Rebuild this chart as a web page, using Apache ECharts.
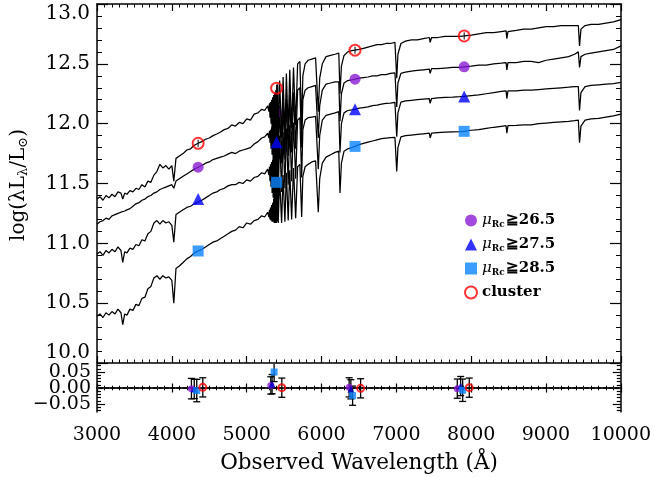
<!DOCTYPE html>
<html>
<head>
<meta charset="utf-8">
<script src="https://cdn.jsdelivr.net/npm/echarts@6/dist/echarts.min.js"></script>
<style>
html,body{margin:0;padding:0;background:#fff}
#chart{width:654px;height:477px}
</style>
</head>
<body>
<div id="chart"></div>
<script>
// Common observed-frame wavelength grid (Angstrom) for the four composite spectra
const wave = [
  3000,3040,3080,3120,3160,3200,3240,3280,3320,3344,3370,3400,3440,3480,3520,3560,3600,3640,3680,3720,
  3760,3800,3840,3880,3920,3960,4000,4026,4055,4100,4150,4200,4250,4300,4351,4400,4450,4500,4550,4600,
  4650,4700,4750,4800,4850,4900,4950,5000,5050,5100,5150,5200,5240,5280,
  5290,5297,5304,5311,5318,5325,5332,5339,5346,5353,5360,5367,5374,5381,5388,5395,5399,5408,
  5414,5421,5440,5466,5486,5510,5530,5554,5575,5600,5625,5654,5680,5710,5734,5750,
  5780,5820,5870,5920,5945,5956,5975,6010,6060,6120,6180,6230,6246,6265,6300,6350,6400,6447,6500,6560,
  6620,6680,6740,6800,6860,6920,6980,6995,7004,7020,7060,7120,7200,7280,7360,7440,7450,7470,7550,7650,
  7750,7850,7905,8000,8100,8200,8300,8400,8465,8475,8490,8600,8700,8800,8900,9000,9100,9200,9300,9380,
  9430,9446,9465,9520,9600,9700,9800,9900,10000
];

// log(lambda L_lambda / L_sun) of each composite
const logL_cluster = [
  11.37,11.39,11.36,11.40,11.38,11.41,11.39,11.43,11.42,11.37,11.42,11.41,11.44,11.43,11.46,11.45,11.49,11.47,11.52,11.51,
  11.57,11.60,11.66,11.63,11.65,11.62,11.65,11.52,11.71,11.73,11.75,11.78,11.79,11.82,11.836,11.85,11.87,11.88,11.90,11.914,
  11.93,11.95,11.96,11.99,11.98,12.01,12.00,12.04,12.03,12.08,12.09,12.12,12.11,12.15,
  12.16,12.10,12.17,12.05,12.18,12.00,12.20,11.95,12.22,11.92,12.24,11.88,12.26,11.85,12.28,11.82,12.297,11.84,
  12.33,11.85,12.36,11.88,12.39,11.90,12.42,11.93,12.45,11.96,12.47,11.99,12.50,12.52,12.00,12.40,
  12.50,12.53,12.54,12.55,12.55,12.10,12.38,12.50,12.56,12.57,12.58,12.59,12.25,12.48,12.57,12.60,12.61,12.614,12.62,12.63,
  12.64,12.65,12.66,12.66,12.67,12.67,12.68,12.67,12.38,12.58,12.67,12.69,12.70,12.70,12.71,12.72,12.68,12.72,12.72,12.73,
  12.73,12.73,12.733,12.74,12.75,12.76,12.76,12.77,12.775,12.71,12.77,12.78,12.79,12.79,12.80,12.81,12.81,12.82,12.82,12.82,
  12.82,12.65,12.79,12.82,12.83,12.83,12.84,12.85,12.87
];
const logL_mu265 = [
  11.16,11.18,11.19,11.21,11.20,11.23,11.24,11.25,11.26,11.26,11.27,11.28,11.29,11.31,11.33,11.34,11.36,11.37,11.39,11.40,
  11.42,11.43,11.45,11.46,11.47,11.48,11.49,11.46,11.52,11.54,11.56,11.58,11.60,11.62,11.636,11.65,11.67,11.68,11.70,11.71,
  11.72,11.73,11.745,11.76,11.75,11.77,11.78,11.79,11.80,11.83,11.85,11.88,11.89,11.92,
  11.93,11.88,11.94,11.84,11.95,11.79,11.97,11.74,11.99,11.70,12.01,11.66,12.03,11.62,12.06,11.60,12.094,11.62,
  12.12,11.65,12.15,11.67,12.18,11.70,12.21,11.73,12.24,11.76,12.26,11.79,12.28,12.30,11.80,12.20,
  12.28,12.30,12.31,12.32,12.32,11.88,12.15,12.28,12.33,12.34,12.35,12.35,12.02,12.25,12.34,12.36,12.365,12.372,12.38,12.385,
  12.39,12.40,12.40,12.41,12.41,12.42,12.425,12.42,12.14,12.34,12.42,12.43,12.44,12.445,12.45,12.455,12.42,12.46,12.46,12.465,
  12.47,12.47,12.475,12.48,12.49,12.49,12.50,12.505,12.51,12.45,12.51,12.51,12.52,12.52,12.51,12.53,12.54,12.55,12.56,12.58,
  12.60,12.47,12.56,12.58,12.59,12.60,12.61,12.62,12.65
];
const logL_mu275 = [
  10.91,10.93,10.90,10.94,10.92,10.95,10.93,10.97,10.94,10.84,10.93,10.92,10.96,10.95,10.99,10.98,11.03,11.02,11.08,11.10,
  11.17,11.19,11.16,11.19,11.17,11.18,11.15,11.01,11.24,11.26,11.28,11.30,11.31,11.33,11.344,11.36,11.38,11.40,11.42,11.43,
  11.45,11.46,11.48,11.49,11.49,11.51,11.50,11.53,11.52,11.55,11.56,11.59,11.58,11.62,
  11.63,11.57,11.64,11.52,11.66,11.47,11.68,11.42,11.70,11.38,11.73,11.34,11.76,11.30,11.80,11.27,11.844,11.30,
  11.87,11.40,11.90,11.43,11.93,11.46,11.96,11.49,11.99,11.52,12.01,11.54,12.03,12.05,11.55,11.95,
  12.03,12.05,12.055,12.06,12.06,11.62,11.90,12.03,12.07,12.08,12.09,12.10,11.76,12.00,12.09,12.11,12.115,12.12,12.13,12.135,
  12.14,12.15,12.155,12.164,12.17,12.172,12.178,12.17,11.89,12.09,12.18,12.19,12.195,12.20,12.205,12.21,12.17,12.21,12.215,12.22,
  12.222,12.225,12.228,12.235,12.24,12.25,12.26,12.27,12.275,12.21,12.275,12.275,12.28,12.28,12.285,12.29,12.295,12.30,12.305,12.31,
  12.31,12.11,12.26,12.31,12.32,12.325,12.33,12.335,12.345
];
const logL_mu285 = [
  10.39,10.41,10.38,10.42,10.40,10.43,10.41,10.45,10.42,10.32,10.41,10.40,10.45,10.44,10.49,10.48,10.54,10.55,10.62,10.64,
  10.71,10.73,10.70,10.73,10.71,10.72,10.69,10.50,10.79,10.81,10.84,10.87,10.89,10.92,10.936,10.95,10.97,10.99,11.01,11.02,
  11.04,11.06,11.08,11.10,11.11,11.14,11.13,11.17,11.16,11.19,11.20,11.23,11.22,11.26,
  11.27,11.22,11.28,11.20,11.30,11.19,11.32,11.18,11.34,11.18,11.37,11.17,11.40,11.17,11.45,11.17,11.51,11.18,
  11.53,11.17,11.55,11.17,11.57,11.18,11.59,11.19,11.61,11.20,11.63,11.21,11.64,11.66,11.22,11.56,
  11.64,11.66,11.68,11.69,11.70,11.26,11.54,11.67,11.72,11.74,11.76,11.77,11.42,11.67,11.77,11.79,11.80,11.81,11.825,11.835,
  11.845,11.855,11.865,11.875,11.88,11.883,11.886,11.88,11.60,11.80,11.89,11.90,11.905,11.91,11.915,11.92,11.88,11.92,11.925,11.93,
  11.932,11.934,11.936,11.945,11.95,11.96,11.97,11.978,11.983,11.92,11.983,11.985,11.99,11.99,12.00,12.005,12.01,12.015,12.02,12.025,
  12.03,11.84,11.98,12.03,12.04,12.045,12.055,12.065,12.08
];

// Broad-band photometry (effective wavelengths, Angstrom)
const bandWave = [4351, 5399, 6447, 7905];
const phot_mu265 = [11.636, 12.094, 12.372, 12.475];
const phot_mu275 = [11.370, 11.844, 12.120, 12.228];
const phot_mu285 = [10.936, 11.510, 11.810, 11.936];
const phot_cluster = [11.836, 12.297, 12.614, 12.733];
const photErr_cluster = [0.03, 0.03, 0.03, 0.03];

// Residuals (photometry minus spectrum), slightly offset in wavelength for clarity
const resWave_mu265 = [4262, 5323, 6370, 7815];
const res_mu265 = [-0.002, 0.008, 0.002, -0.002];
const resErr_mu265 = [0.032, 0.027, 0.030, 0.030];
const resWave_mu275 = [4300, 5340, 6393, 7860];
const res_mu275 = [-0.003, 0.012, -0.004, 0.006];
const resErr_mu275 = [0.030, 0.030, 0.030, 0.030];
const resWave_mu285 = [4333, 5367, 6416, 7887];
const res_mu285 = [-0.008, 0.050, -0.024, -0.007];
const resErr_mu285 = [0.035, 0.030, 0.030, 0.035];
const resWave_cluster = [4414, 5470, 6523, 7975];
const res_cluster = [0.002, 0.001, -0.001, 0.001];
const resErr_cluster = [0.030, 0.030, 0.030, 0.030];

// Residual axis: outer labels, centre label, minor tick positions
const resOuterTicks = [-0.05, 0.05];
const resZeroTick = [0.00];
const resMinorTicks = [-0.07,-0.06,-0.04,-0.03,-0.02,-0.01,0.01,0.02,0.03,0.04,0.06,0.07];
const legendCuts = { mu265: '26.5', mu275: '27.5', mu285: '28.5' };

const COL = { mu265: '#8a1ad6', mu275: '#0000ff', mu285: '#0a84ff', cluster: '#ff0000' };
const SERIF = 'DejaVu Serif';

const zip = (xs, ys) => xs.map((x, i) => [x, ys[i]]);

function spectrum(ys, z) {
  return {
    type: 'line', xAxisIndex: 0, yAxisIndex: 0, data: zip(wave, ys),
    showSymbol: false, symbol: 'none', z: z, silent: true,
    lineStyle: { color: '#000', width: 1.25 }
  };
}

function errorBars(xs, ys, es, xi, yi, z, capHalf, width) {
  return {
    type: 'custom', xAxisIndex: xi, yAxisIndex: yi, z: z, silent: true,
    data: xs.map((x, i) => [x, ys[i] - es[i], ys[i] + es[i]]),
    renderItem: function (params, api) {
      const lo = api.coord([api.value(0), api.value(1)]);
      const hi = api.coord([api.value(0), api.value(2)]);
      const cs = params.coordSys;
      const top = Math.max(hi[1], cs.y);
      const bot = Math.min(lo[1], cs.y + cs.height);
      const st = { stroke: '#000', lineWidth: width };
      const kids = [{ type: 'line', shape: { x1: lo[0], y1: bot, x2: hi[0], y2: top }, style: st }];
      if (bot === lo[1]) kids.push({ type: 'line', shape: { x1: lo[0] - capHalf, y1: bot, x2: lo[0] + capHalf, y2: bot }, style: st });
      if (top === hi[1]) kids.push({ type: 'line', shape: { x1: hi[0] - capHalf, y1: top, x2: hi[0] + capHalf, y2: top }, style: st });
      return { type: 'group', children: kids };
    }
  };
}

function marker(name, xs, ys, xi, yi, symbol, size, style, z) {
  return {
    type: 'scatter', name: name, xAxisIndex: xi, yAxisIndex: yi, z: z, silent: true,
    data: zip(xs, ys), symbol: symbol, symbolSize: size, itemStyle: style
  };
}

const axisLine = { show: true, lineStyle: { color: '#000', width: 1.5 } };
const resLabelFmt = v => (v < -1e-9 ? '\u2212' : '') + Math.abs(v).toFixed(2);

function xAxis(grid, pos, tickLen, minorLen, labels) {
  return {
    type: 'value', gridIndex: grid, position: pos, min: 3000, max: 10000, interval: 1000,
    axisLine: axisLine, splitLine: { show: false },
    axisTick: { show: true, inside: true, length: tickLen, lineStyle: { color: '#000', width: 1.2 } },
    minorTick: { show: true, splitNumber: 10, length: minorLen, lineStyle: { color: '#000', width: 1 } },
    axisLabel: labels
      ? { show: true, margin: 14, color: '#000', fontFamily: SERIF, fontSize: 19, formatter: v => String(v) }
      : { show: false }
  };
}

function resAxis(pos, ticks, tickLen, line, labelValues) {
  return {
    type: 'value', gridIndex: 1, position: pos, min: -0.075, max: 0.075,
    axisLine: line ? axisLine : { show: false }, splitLine: { show: false },
    axisTick: { show: true, inside: true, length: tickLen, customValues: ticks, lineStyle: { color: '#000', width: 1.2 } },
    axisLabel: labelValues ? {
      color: '#000', fontFamily: SERIF, fontSize: 19, margin: 6,
      showMinLabel: true, showMaxLabel: true, customValues: labelValues, formatter: resLabelFmt
    } : { show: false }
  };
}

const chart = echarts.init(document.getElementById('chart'), null, { renderer: 'canvas' });

const option = {
  animation: false,
  backgroundColor: '#fff',
  grid: [
    { left: 97, top: 4, width: 524, height: 359 },
    { left: 97, top: 364, width: 524, height: 48 }
  ],
  xAxis: [
    xAxis(0, 'bottom', 7, 3.5, false),
    xAxis(0, 'top', 7, 3.5, false),
    xAxis(1, 'bottom', 4.5, 2.3, true),
    xAxis(1, 'top', 4.5, 2.3, false)
  ],
  yAxis: [
    {
      type: 'value', gridIndex: 0, position: 'left', min: 10, max: 13, interval: 0.5,
      axisLine: axisLine, splitLine: { show: false },
      axisTick: { show: true, inside: true, length: 11, lineStyle: { color: '#000', width: 1.2 } },
      minorTick: { show: true, splitNumber: 5, length: 5, lineStyle: { color: '#000', width: 1 } },
      axisLabel: {
        color: '#000', fontFamily: SERIF, fontSize: 20, margin: 7,
        verticalAlignMaxLabel: 'top', verticalAlignMinLabel: 'bottom',
        formatter: v => v.toFixed(1)
      }
    },
    {
      type: 'value', gridIndex: 0, position: 'right', min: 10, max: 13, interval: 0.5,
      axisLine: axisLine, splitLine: { show: false },
      axisTick: { show: true, inside: true, length: 11, lineStyle: { color: '#000', width: 1.2 } },
      minorTick: { show: true, splitNumber: 5, length: 5, lineStyle: { color: '#000', width: 1 } },
      axisLabel: { show: false }
    },
    resAxis('left', resOuterTicks, 8, true, resOuterTicks),
    resAxis('left', resZeroTick, 8, false, resZeroTick),
    resAxis('left', resMinorTicks, 4, false, null),
    resAxis('right', resOuterTicks.concat(resZeroTick), 8, true, null),
    resAxis('right', resMinorTicks, 4, false, null)
  ],
  legend: {
    orient: 'vertical', left: 459, top: 208, itemWidth: 12, itemHeight: 12, itemGap: 8,
    selectedMode: false, icon: 'circle',
    data: [
      { name: 'mu265', icon: 'circle' },
      { name: 'mu275', icon: 'triangle' },
      { name: 'mu285', icon: 'rect' },
      { name: 'cluster', icon: 'circle', itemStyle: { color: '#fff', borderColor: COL.cluster, borderWidth: 2 } }
    ],
    formatter: name => name === 'cluster'
      ? '{c|cluster}'
      : '{mu|\u03bc}{sub|Rc}{v|\u2267' + legendCuts[name] + '}',
    textStyle: {
      color: '#000',
      rich: {
        mu: { fontFamily: SERIF, fontStyle: 'italic', fontSize: 15, color: '#000' },
        sub: { fontFamily: SERIF, fontWeight: 'bold', fontSize: 9, color: '#000', padding: [8, 1, 0, 0] },
        v: { fontFamily: SERIF, fontWeight: 'bold', fontSize: 15, color: '#000' },
        c: { fontFamily: SERIF, fontWeight: 'bold', fontSize: 15, color: '#000' }
      }
    }
  },
  graphic: [
    {
      type: 'text', x: 19, y: 185, rotation: Math.PI / 2, z: 10,
      style: {
        text: '{t|log(\u03bbL}{s|\u03bb}{t|/L}{s|\u2299}{t|)}',
        align: 'center', verticalAlign: 'middle',
        rich: {
          t: { fontFamily: SERIF, fontSize: 20, fill: '#000' },
          s: { fontFamily: SERIF, fontSize: 13, fill: '#000', padding: [9, 0, 0, 0] }
        }
      }
    },
    {
      type: 'text', x: 359, y: 463, z: 10,
      style: {
        text: 'Observed Wavelength (\u00c5)', align: 'center', verticalAlign: 'middle',
        fontFamily: SERIF, fontSize: 21.5, fill: '#000'
      }
    }
  ],
  series: [
    spectrum(logL_mu285, 2),
    spectrum(logL_mu275, 2),
    spectrum(logL_mu265, 2),
    marker('mu265', bandWave, phot_mu265, 0, 0, 'circle', 11, { color: COL.mu265 }, 3),
    spectrum(logL_cluster, 4),
    marker('mu275', bandWave, phot_mu275, 0, 0, 'triangle', 12, { color: COL.mu275 }, 5),
    marker('mu285', bandWave, phot_mu285, 0, 0, 'rect', 11, { color: COL.mu285 }, 5),
    errorBars(bandWave, phot_cluster, photErr_cluster, 0, 0, 5, 0, 1),
    marker('cluster', bandWave, phot_cluster, 0, 0, 'circle', 11,
      { color: 'rgba(0,0,0,0)', borderColor: COL.cluster, borderWidth: 2 }, 6),

    // residual panel
    {
      type: 'line', xAxisIndex: 2, yAxisIndex: 2, data: [[3000, 0], [10000, 0]], z: 1,
      showSymbol: false, symbol: 'none', silent: true,
      lineStyle: { color: '#555', width: 1.2, type: [1.5, 4.5] }
    },
    errorBars(resWave_mu265, res_mu265, resErr_mu265, 2, 2, 2, 3.5, 1.3),
    errorBars(resWave_mu275, res_mu275, resErr_mu275, 2, 2, 2, 3.5, 1.3),
    errorBars(resWave_mu285, res_mu285, resErr_mu285, 2, 2, 2, 3.5, 1.3),
    errorBars(resWave_cluster, res_cluster, resErr_cluster, 2, 2, 2, 3.5, 1.3),
    marker('r265', resWave_mu265, res_mu265, 2, 2, 'circle', 7, { color: COL.mu265 }, 3),
    marker('r275', resWave_mu275, res_mu275, 2, 2, 'triangle', 7, { color: '#0000c8' }, 4),
    marker('r285', resWave_mu285, res_mu285, 2, 2, 'rect', 7, { color: COL.mu285 }, 5),
    marker('rcl', resWave_cluster, res_cluster, 2, 2, 'circle', 7,
      { color: 'rgba(0,0,0,0)', borderColor: COL.cluster, borderWidth: 2 }, 6)
  ]
};

chart.setOption(option);
</script>
</body>
</html>
